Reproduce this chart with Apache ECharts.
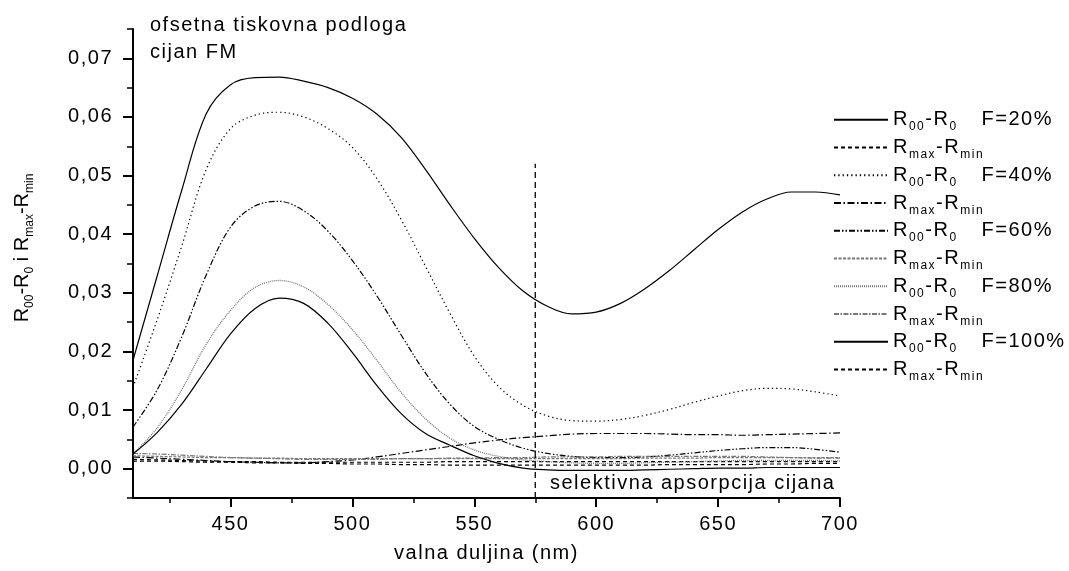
<!DOCTYPE html>
<html><head><meta charset="utf-8">
<script src="https://cdn.jsdelivr.net/npm/echarts@6/dist/echarts.min.js"></script>
<style>html,body{margin:0;padding:0;background:#fff}#c{width:1069px;height:571px}</style>
</head><body><div id="c"></div>
<script>
// wavelengths (nm)
const wl = [410,420,430,440,450,460,470,480,490,500,510,520,530,540,550,560,570,580,590,600,610,620,630,640,650,660,670,680,690,700];
// R00-R0 and Rmax-Rmin for each F
const F20_R00  = [0.0185,0.0330,0.0475,0.0605,0.0655,0.0667,0.0668,0.0661,0.0650,0.0632,0.0605,0.0565,0.0510,0.0450,0.0393,0.0343,0.0303,0.0277,0.0264,0.0267,0.0282,0.0307,0.0338,0.0373,0.0408,0.0438,0.0460,0.0472,0.0472,0.0467];
const F20_Rmax = [0.0016,0.0015,0.0014,0.0013,0.0012,0.0012,0.0011,0.0011,0.0011,0.0011,0.0011,0.0011,0.0011,0.0012,0.0012,0.0012,0.0012,0.0012,0.0012,0.0012,0.0012,0.0012,0.0012,0.0012,0.0012,0.0012,0.0012,0.0012,0.0012,0.0012];
const F40_R00  = [0.0139,0.0255,0.0380,0.0510,0.0580,0.0603,0.0608,0.0600,0.0580,0.0548,0.0495,0.0425,0.0345,0.0265,0.0192,0.0140,0.0108,0.0090,0.0082,0.0081,0.0084,0.0091,0.0101,0.0113,0.0124,0.0133,0.0137,0.0136,0.0131,0.0124];
const F40_Rmax = [0.0020,0.0018,0.0016,0.0014,0.0012,0.0011,0.0010,0.0010,0.0012,0.0015,0.0020,0.0026,0.0032,0.0038,0.0044,0.0049,0.0053,0.0056,0.0059,0.0060,0.0060,0.0060,0.0059,0.0058,0.0058,0.0057,0.0058,0.0059,0.0060,0.0061];
const F60_R00  = [0.0071,0.0135,0.0225,0.0330,0.0412,0.0448,0.0456,0.0440,0.0405,0.0355,0.0295,0.0228,0.0163,0.0110,0.0072,0.0050,0.0035,0.0026,0.0021,0.0019,0.0019,0.0020,0.0023,0.0027,0.0031,0.0034,0.0036,0.0036,0.0033,0.0028];
const F60_Rmax = [0.0022,0.0021,0.0020,0.0019,0.0019,0.0018,0.0018,0.0017,0.0017,0.0017,0.0017,0.0017,0.0017,0.0017,0.0017,0.0017,0.0017,0.0017,0.0017,0.0017,0.0017,0.0018,0.0018,0.0018,0.0019,0.0019,0.0019,0.0019,0.0019,0.0019];
const F80_R00  = [0.0025,0.0070,0.0135,0.0212,0.0270,0.0309,0.0321,0.0310,0.0280,0.0237,0.0185,0.0130,0.0085,0.0052,0.0032,0.0021,0.0015,0.0012,0.0010,0.0009,0.0009,0.0010,0.0011,0.0012,0.0013,0.0014,0.0014,0.0014,0.0014,0.0013];
const F80_Rmax = [0.0026,0.0025,0.0023,0.0021,0.0019,0.0018,0.0017,0.0016,0.0016,0.0016,0.0016,0.0017,0.0017,0.0018,0.0018,0.0019,0.0019,0.0020,0.0020,0.0020,0.0021,0.0021,0.0021,0.0021,0.0021,0.0021,0.0020,0.0019,0.0018,0.0018];
const F100_R00 = [0.0025,0.0062,0.0110,0.0170,0.0230,0.0273,0.0291,0.0282,0.0248,0.0198,0.0142,0.0094,0.0060,0.0040,0.0022,0.0009,0.0001,-0.0002,-0.0003,-0.0003,-0.0003,-0.0002,-0.0001,0.0000,0.0001,0.0001,0.0002,0.0002,0.0002,0.0002];
const F100_Rmax= [0.0013,0.0013,0.0012,0.0011,0.0011,0.0010,0.0010,0.0009,0.0009,0.0008,0.0008,0.0007,0.0007,0.0006,0.0006,0.0006,0.0006,0.0006,0.0006,0.0006,0.0006,0.0006,0.0007,0.0007,0.0007,0.0007,0.0008,0.0008,0.0009,0.0009];

const fLabels = ['F=20%','F=40%','F=60%','F=80%','F=100%'];
const xTicks = [450,500,550,600,650,700];
const xMinorTicks = [425,475,525,575,625,675];
const yTicks = [0,0.01,0.02,0.03,0.04,0.05,0.06,0.07];
const markerX = [575,575];
const markerY = [-0.005,0.052];
const texts = {
  title1: 'ofsetna tiskovna podloga',
  title2: 'cijan FM',
  note: 'selektivna apsorpcija cijana',
  xName: 'valna duljina (nm)'
};

// wide tracking like the reference typography (only for text set in "Arial")
(function(){
  var P = window.CanvasRenderingContext2D && CanvasRenderingContext2D.prototype;
  if (!P || !('letterSpacing' in P)) return;
  ['fillText','strokeText','measureText'].forEach(function(fn){
    var o = P[fn];
    P[fn] = function(){
      try { this.letterSpacing = /Arial/.test(this.font) ? '1.5px' : '0px'; } catch(e){}
      return o.apply(this, arguments);
    };
  });
})();

const FONT = 'Arial, "Liberation Sans", sans-serif';
const FONT_PLAIN = '"Liberation Sans", sans-serif';
function makeRich(ff, gap){
  return {
    a: {fontSize: 20, fontFamily: ff, color: '#000', lineHeight: 28, verticalAlign: 'middle'},
    s: {fontSize: 12, fontFamily: ff, color: '#000', lineHeight: 10, verticalAlign: 'bottom'},
    g: {fontSize: 20, fontFamily: ff, width: gap, lineHeight: 28}
  };
}
const R00 = '{a|R}{s|00}{a|-R}{s|0}';
const RMAX = '{a|R}{s|max}{a|-R}{s|min}';

const seriesData = [F20_R00,F20_Rmax,F40_R00,F40_Rmax,F60_R00,F60_Rmax,F80_R00,F80_Rmax,F100_R00,F100_Rmax];
const lineStyles = [
  {color:'#000', type:'solid', width:1.2},
  {color:'#000', type:[4,3], width:1.2},
  {color:'#000', type:[1.3,3], width:1.2},
  {color:'#000', type:[7,2.5,1.5,2.5], width:1.2},
  {color:'#000', type:[6,2,1.5,2,1.5,2], width:1.2},
  {color:'#777', type:[3,1.5], width:1.2},
  {color:'#777', type:[1,1], width:1.3},
  {color:'#777', type:[5,1.5,1.5,1.5], width:1.2},
  {color:'#000', type:'solid', width:1.2},
  {color:'#000', type:[4,3], width:1.2}
];
const names = [];
const legendText = {};
fLabels.forEach(function(f){
  names.push('R00-R0 ' + f); legendText['R00-R0 ' + f] = R00 + '{g| }{a|' + f + '}';
  names.push('Rmax-Rmin ' + f); legendText['Rmax-Rmin ' + f] = RMAX;
});

const series = seriesData.map(function(arr, i){
  return {
    name: names[i], type: 'line', symbol: 'none', showSymbol: false, smooth: 0.35,
    lineStyle: lineStyles[i], itemStyle: {color: lineStyles[i].color},
    emphasis: {disabled: true}, animation: false, z: 3,
    data: wl.map(function(x, j){ return [x, arr[j]]; })
  };
});
series.push({
  type: 'line', symbol: 'none', silent: true, animation: false,
  lineStyle: {color:'#000', type:[6,4], width:1.3},
  data: markerX.map(function(x, j){ return [x, markerY[j]]; })
});

const chart = echarts.init(document.getElementById('c'), null, {renderer:'canvas'});
chart.setOption({
  backgroundColor: '#fff',
  animation: false,
  grid: {left: 133, right: 229, top: 29, bottom: 73, outerBoundsMode: 'none'},
  legend: {
    orient: 'vertical', left: 828, top: 104, itemWidth: 54, itemHeight: 14, itemGap: 3,
    data: names, selectedMode: false,
    itemStyle: {opacity: 0},
    formatter: function(n){ return legendText[n]; },
    textStyle: {fontSize: 20, fontFamily: FONT, color: '#000', rich: makeRich(FONT, 24)}
  },
  xAxis: [{
    type: 'value', min: 410, max: 700, position: 'bottom',
    name: texts.xName, nameLocation: 'middle', nameGap: 45,
    nameTextStyle: {fontSize: 20, fontFamily: FONT, color: '#000'},
    axisLine: {show: true, onZero: false, lineStyle: {color:'#000', width: 2}},
    axisTick: {show: true, length: 9, customValues: xTicks, lineStyle: {color:'#000', width: 2}},
    axisLabel: {show: true, customValues: xTicks, margin: 16, fontSize: 20, fontFamily: FONT, color: '#000'},
    splitLine: {show: false}
  }, {
    type: 'value', min: 410, max: 700, position: 'bottom',
    axisLine: {show: false, onZero: false},
    axisTick: {show: true, length: 5, customValues: xMinorTicks, lineStyle: {color:'#000', width: 1.5}},
    axisLabel: {show: false},
    splitLine: {show: false}
  }],
  yAxis: [{
    type: 'value', min: -0.005, max: 0.075, position: 'left',
    axisLine: {show: true, onZero: false, lineStyle: {color:'#000', width: 2}},
    axisTick: {show: true, length: 10, customValues: yTicks, lineStyle: {color:'#000', width: 2}},
    axisLabel: {show: true, customValues: yTicks, margin: 20, fontSize: 20, fontFamily: FONT, color: '#000',
      formatter: function(v){ return v.toFixed(2).replace('.', ','); }},
    splitLine: {show: false}
  }, {
    type: 'value', min: -0.005, max: 0.075, interval: 0.005, position: 'left',
    axisLine: {show: false, onZero: false},
    axisTick: {show: true, length: 6, lineStyle: {color:'#000', width: 1.5}},
    axisLabel: {show: false},
    splitLine: {show: false}
  }],
  graphic: [
    {type:'text', x: 150, y: 25, style: {text: texts.title1, font: '20px ' + FONT, fill:'#000', align:'left', verticalAlign:'middle'}},
    {type:'text', x: 150, y: 52.5, style: {text: texts.title2, font: '20px ' + FONT, fill:'#000', align:'left', verticalAlign:'middle'}},
    {type:'text', x: 550, y: 483, style: {text: texts.note, font: '20px ' + FONT, fill:'#000', align:'left', verticalAlign:'middle'}},
    {type:'text', x: 22, y: 248, rotation: Math.PI/2,
      style: {text: R00 + '{a| i }' + RMAX, rich: makeRich(FONT_PLAIN, 0), fill:'#000', align:'center', verticalAlign:'middle'}}
  ],
  series: series
});
</script>
</body></html>
